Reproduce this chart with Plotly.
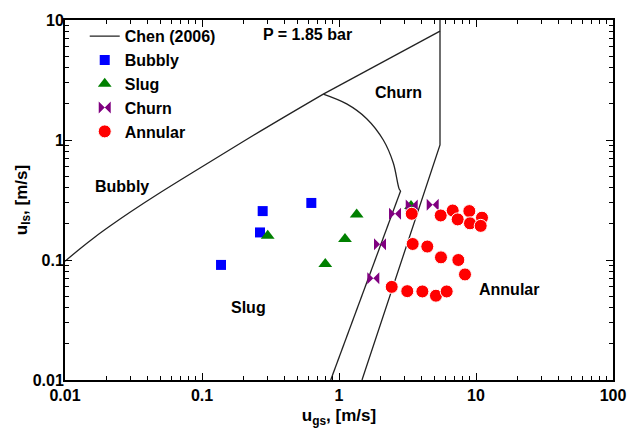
import plotly.graph_objects as go

# ---- Chen (2006) transition boundaries (u_gs, u_ls) ----
bubbly_slug_x = [0.01, 0.01287, 0.01656, 0.02131, 0.02981, 0.04935, 0.0967, 0.2651, 0.768]
bubbly_slug_y = [0.0976, 0.1242, 0.1557, 0.1919, 0.25, 0.3634, 0.5844, 1.18, 2.414]
upper_x = [0.768, 5.46]
upper_y = [2.414, 8.08]
arc_x = [0.768, 1.138, 1.593, 2.106, 2.491, 2.755, 2.82]
arc_y = [2.414, 2.0, 1.506, 1.0, 0.644, 0.389, 0.377]
slug_churn_x = [2.82, 0.870]
slug_churn_y = [0.377, 0.01]
churn_annular_x = [5.46, 5.46, 1.472]
churn_annular_y = [10.0, 0.91, 0.01]

# ---- Experimental data ----
bubbly_x = [0.1377, 0.2773, 0.2651, 0.628]
bubbly_y = [0.091, 0.2556, 0.1697, 0.2988]
slug_x = [0.3017, 1.346, 1.106, 0.794, 3.354]
slug_y = [0.1594, 0.2396, 0.1495, 0.0928, 0.2825]
churn_x = [2.564, 3.395, 4.83, 1.992, 1.780]
churn_y = [0.2428, 0.284, 0.2893, 0.1353, 0.0703]
annular_x = [3.395, 5.525, 6.76, 8.94, 7.35, 9.04, 11.06, 10.82,
             3.45, 4.41, 5.55, 7.43, 8.31,
             2.425, 3.15, 4.06, 5.10, 6.11]
annular_y = [0.2428, 0.235, 0.2585, 0.2556, 0.218, 0.2021, 0.2252, 0.1925,
             0.136, 0.1295, 0.1052, 0.100, 0.0758,
             0.0597, 0.055, 0.0547, 0.0504, 0.0547]

x_ticks = [0.01, 0.1, 1, 10, 100]
x_ticklabels = ["0.01", "0.1", "1", "10", "100"]
y_ticks = [0.01, 0.1, 1, 10]
y_ticklabels = ["0.01", "0.1", "1", "10"]

FONT = "Liberation Sans"
LINE = dict(color="#222222", width=1.3)


def minor_vals(decades):
    return [m * 10.0 ** d for d in decades for m in range(2, 10)]


fig = go.Figure()
fig.add_trace(go.Scatter(x=bubbly_slug_x, y=bubbly_slug_y, mode="lines", name="Chen (2006)",
                         line=dict(**LINE, shape="spline", smoothing=1), legendgroup="a"))
fig.add_trace(go.Scatter(x=upper_x, y=upper_y, mode="lines", line=LINE, showlegend=False, legendgroup="a"))
fig.add_trace(go.Scatter(x=arc_x, y=arc_y, mode="lines", line=dict(**LINE, shape="spline", smoothing=1),
                         showlegend=False, legendgroup="a"))
fig.add_trace(go.Scatter(x=slug_churn_x, y=slug_churn_y, mode="lines", line=LINE, showlegend=False,
                         legendgroup="a"))
fig.add_trace(go.Scatter(x=churn_annular_x, y=churn_annular_y, mode="lines", line=LINE, showlegend=False,
                         legendgroup="a"))

fig.add_trace(go.Scatter(x=bubbly_x, y=bubbly_y, mode="markers", name="Bubbly",
                         marker=dict(symbol="square", size=10, color="#0000FF"), legendgroup="b"))
fig.add_trace(go.Scatter(x=slug_x, y=slug_y, mode="markers", name="Slug",
                         marker=dict(symbol="triangle-up", size=12, color="#008000"), legendgroup="c"))
fig.add_trace(go.Scatter(x=churn_x, y=churn_y, mode="markers", name="Churn",
                         marker=dict(symbol="bowtie", size=12, color="#800080"), legendgroup="d"))
fig.add_trace(go.Scatter(x=annular_x, y=annular_y, mode="markers", name="Annular",
                         marker=dict(symbol="circle", size=13, color="#FF0000",
                                     line=dict(color="white", width=1)), legendgroup="e"))

axis_common = dict(type="log", showline=True, linewidth=2, linecolor="black", mirror="allticks",
                   ticks="inside", ticklen=7, tickwidth=1, tickcolor="black", showgrid=False,
                   zeroline=False, tickmode="array",
                   tickfont=dict(size=16, family=FONT, color="black", weight="bold"))

fig.update_xaxes(**axis_common, range=[-2, 2], tickvals=x_ticks, ticktext=x_ticklabels,
                 minor=dict(tickmode="array", tickvals=minor_vals([-2, -1, 0, 1]), ticklen=4,
                            ticks="inside", tickcolor="black", showgrid=False),
                 title=dict(text="u<sub>gs</sub>, [m/s]", standoff=6,
                            font=dict(size=17, family=FONT, color="black", weight="bold")))
fig.update_yaxes(**axis_common, range=[-2, 1], tickvals=y_ticks, ticktext=y_ticklabels,
                 ticklabelstandoff=-4,
                 minor=dict(tickmode="array", tickvals=minor_vals([-2, -1, 0]), ticklen=4,
                            ticks="inside", tickcolor="black", showgrid=False),
                 title=dict(text="u<sub>ls</sub>, [m/s]", standoff=1,
                            font=dict(size=17, family=FONT, color="black", weight="bold")))

annots = [
    ("Bubbly", -1.584, -0.385),
    ("Slug", -0.657, -1.393),
    ("Churn", 0.431, 0.395),
    ("Annular", 1.241, -1.246),
]
for txt, ax, ay in annots:
    fig.add_annotation(x=ax, y=ay, xref="x", yref="y", text=txt, showarrow=False,
                       font=dict(size=16, family=FONT, color="black", weight="bold"))
fig.add_annotation(x=0.443, y=0.961, xref="paper", yref="paper", text="P = 1.85 bar", showarrow=False,
                   xanchor="center", yanchor="middle",
                   font=dict(size=16, family=FONT, color="black", weight="bold"))

fig.update_layout(
    width=640, height=434, autosize=False,
    margin=dict(l=65, r=27, t=18, b=50),
    paper_bgcolor="white", plot_bgcolor="white",
    font=dict(family=FONT, size=16, color="black", weight="bold"),
    legend=dict(x=0.036, y=1.002, xanchor="left", yanchor="top", bgcolor="rgba(0,0,0,0)",
                tracegroupgap=0, font=dict(size=16, family=FONT, color="black", weight="bold")),
)

fig.write_html("out.html")
